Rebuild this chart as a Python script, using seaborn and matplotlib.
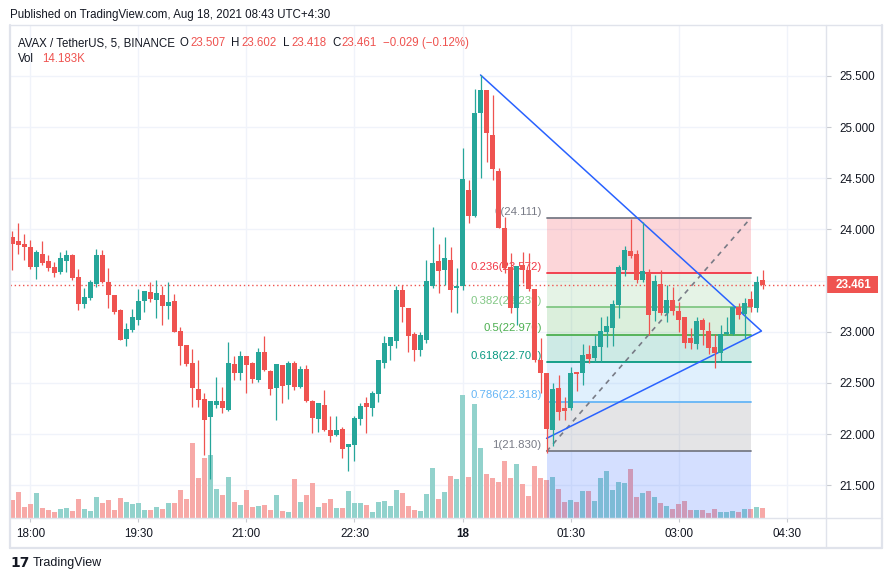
import numpy as np
import pandas as pd
import matplotlib
matplotlib.use("Agg")
import matplotlib.pyplot as plt
from matplotlib.lines import Line2D
from matplotlib.patches import Rectangle
import seaborn as sns

# ---------------- data ----------------
start_time = "2021-08-17 17:45"
axis_origin = "2021-08-17 18:00"

opens = [23.925, 23.886, 23.857, 23.827, 23.632, 23.759, 23.691, 23.632, 23.586, 23.691,
         23.749, 23.534, 23.274, 23.332, 23.466,
         23.749, 23.485, 23.358, 23.212, 22.928, 23.020, 23.117, 23.303, 23.388, 23.313,
         23.358, 23.254, 23.300, 23.007, 22.870, 22.694,
         22.440, 22.342, 22.169, 22.283, 22.322, 22.234, 22.684, 22.596, 22.762, 22.694,
         22.528, 22.801, 22.615, 22.450, 22.674, 22.479,
         22.694, 22.459, 22.635, 22.322, 22.147, 22.283, 22.039, 21.990, 22.049, 21.873,
         21.893, 22.147, 22.303, 22.254, 22.391, 22.694,
         22.860, 22.909, 23.408, 23.231, 22.977, 22.821, 22.919, 23.447, 23.691, 23.603,
         23.701, 23.427, 23.447, 24.385, 24.131,
         25.135, 25.363, 24.923, 24.571, 24.010, 23.636, 23.228, 23.652, 23.603, 23.420,
         22.722, 22.600, 22.039, 22.446, 22.251, 22.254,
         22.606, 22.596, 22.782, 22.743, 22.850, 23.000, 23.039, 23.264, 23.606, 23.788,
         23.759, 23.505,
         23.570, 23.205, 23.466, 23.182, 23.309, 23.202, 23.143, 22.938, 22.883, 23.114,
         23.007, 22.850, 22.792, 22.977, 22.977, 23.241, 23.173, 23.319, 23.231, 23.507]

highs = [23.984, 24.065, 23.958, 23.896, 23.798, 23.886, 23.749, 23.681, 23.779, 23.798,
         23.759, 23.612, 23.427, 23.505, 23.808,
         23.798, 23.622, 23.360, 23.225, 23.085, 23.221, 23.417, 23.397, 23.485, 23.505,
         23.446, 23.485, 23.368, 23.046, 22.870, 22.831,
         22.723, 22.401, 22.322, 22.557, 22.459, 22.899, 22.762, 22.811, 22.762, 22.704,
         22.840, 22.958, 22.625, 22.684, 22.674, 22.714,
         22.714, 22.664, 22.674, 22.332, 22.303, 22.430, 22.176, 22.176, 22.068, 21.902,
         22.176, 22.303, 22.362, 22.420, 22.723, 22.958,
         22.948, 23.447, 23.456, 23.231, 22.997, 22.997, 23.701, 24.023, 23.857, 23.926,
         23.828, 23.623, 24.796, 24.483, 25.373,
         25.510, 25.363, 25.314, 24.597, 24.125, 23.766, 23.642, 23.776, 23.766, 23.420,
         22.935, 22.600, 22.495, 22.573, 22.365, 22.658,
         22.610, 22.879, 22.870, 22.967, 23.143, 23.153, 23.309, 23.652, 23.837, 24.107,
         23.798, 24.075,
         23.612, 23.554, 23.603, 23.456, 23.436, 23.293, 23.143, 23.036, 23.143, 23.133,
         23.094, 22.977, 23.065, 23.143, 23.241, 23.280, 23.329, 23.397, 23.544, 23.602]

lows = [23.603, 23.762, 23.700, 23.612, 23.515, 23.651, 23.596, 23.534, 23.567, 23.583,
        23.505, 23.215, 23.235, 23.313, 23.436,
        23.472, 23.231, 23.176, 22.920, 22.863, 23.000, 23.068, 23.195, 23.293, 23.137,
        23.068, 23.127, 22.998, 22.678, 22.668, 22.267,
        22.267, 21.795, 21.564, 22.254, 22.205, 22.225, 22.528, 22.528, 22.401, 22.498,
        22.508, 22.615, 22.381, 22.137, 22.303, 22.342,
        22.430, 22.450, 22.313, 22.010, 22.020, 22.029, 21.922, 21.980, 21.765, 21.638,
        21.736, 22.088, 22.010, 22.176, 22.313, 22.645,
        22.723, 22.840, 23.095, 22.801, 22.713, 22.762, 22.889, 23.427, 23.378, 23.456,
        23.192, 23.182, 23.408, 24.062, 24.121,
        24.500, 24.662, 24.483, 24.010, 23.570, 23.179, 23.070, 23.479, 23.400, 22.700,
        22.397, 21.810, 21.886, 22.137, 22.137, 22.234,
        22.423, 22.479, 22.697, 22.704, 22.704, 22.853, 22.860, 23.130, 23.547, 23.723,
        23.479, 23.489,
        22.967, 23.108, 23.163, 23.098, 23.163, 23.000, 22.844, 22.834, 22.834, 22.873,
        22.785, 22.648, 22.717, 22.967, 22.967, 23.124, 22.928, 23.192, 23.192, 23.418]

closes = [23.860, 23.847, 23.831, 23.632, 23.779, 23.674, 23.622, 23.577, 23.720, 23.749,
          23.524, 23.274, 23.339, 23.485, 23.749,
          23.482, 23.358, 23.195, 22.922, 23.026, 23.143, 23.300, 23.397, 23.319, 23.378,
          23.254, 23.290, 23.000, 22.863, 22.684, 22.453,
          22.332, 22.137, 22.322, 22.322, 22.254, 22.694, 22.596, 22.762, 22.674, 22.537,
          22.801, 22.625, 22.440, 22.684, 22.469, 22.694,
          22.459, 22.635, 22.322, 22.156, 22.303, 22.039, 21.980, 22.039, 21.853, 21.902,
          22.156, 22.274, 22.264, 22.401, 22.723, 22.889,
          22.948, 23.408, 23.241, 22.958, 22.821, 22.967, 23.495, 23.671, 23.593, 23.720,
          23.408, 23.447, 24.493, 24.131, 25.138,
          25.363, 24.946, 24.587, 24.010, 23.620, 23.228, 23.642, 23.603, 23.420, 22.722,
          22.600, 22.050, 22.436, 22.215, 22.225, 22.596,
          22.590, 22.772, 22.736, 22.860, 23.007, 23.055, 23.270, 23.632, 23.798, 23.743,
          23.505, 23.593,
          23.163, 23.495, 23.182, 23.309, 23.202, 23.114, 22.893, 22.893, 23.104, 23.016,
          22.844, 22.792, 22.977, 22.997, 23.241, 23.166, 23.280, 23.241, 23.490, 23.461]

volumes_k = [25.2, 36.2, 15.6, 19.7, 34.8, 14.2, 11.4, 8.7, 12.8, 14.2,
             10.1, 26.5, 12.8, 10.1, 29.3,
             21.1, 25.2, 11.4, 27.9, 22.4, 19.7, 21.1, 11.4, 11.4, 15.6,
             12.8, 21.1, 21.1, 38.9, 26.5, 103.4,
             55.4, 82.8, 87.0, 40.3, 32.0, 56.8, 22.4, 18.3, 38.9, 15.6,
             16.9, 18.3, 11.4, 32.0, 10.1, 8.7,
             54.0, 22.4, 32.0, 48.5, 15.6, 21.1, 26.5, 14.2, 14.2, 37.5,
             21.1, 21.1, 18.3, 8.7, 22.4, 23.8,
             16.5, 38.4, 34.3, 16.5, 11.0, 9.6, 33.0, 68.7, 26.1, 35.7,
             57.7, 53.6, 168.9, 56.3, 156.5,
             96.1, 60.4, 54.9, 49.4, 78.3, 54.9, 74.1, 46.7, 30.2, 71.4,
             54.9, 52.2, 56.3, 39.8, 22.0, 24.7,
             22.4, 37.5, 37.5, 23.8, 55.4, 65.0, 38.9, 49.9, 48.5, 67.7,
             29.3, 34.8,
             37.5, 29.3, 21.1, 16.9, 12.8, 19.7, 23.8, 11.4, 11.4, 11.4,
             7.3, 12.8, 8.7, 8.7, 10.1, 8.7, 12.8, 12.8, 15.6, 14.183]

price_ticks = [21.5, 22.0, 22.5, 23.0, 23.5, 24.0, 24.5, 25.0, 25.5]
price_tick_labels = ["21.500", "22.000", "22.500", "23.000", "", "24.000", "24.500", "25.000", "25.500"]
time_ticks = ["2021-08-17 18:00", "2021-08-17 19:30", "2021-08-17 21:00", "2021-08-17 22:30",
              "2021-08-18 00:00", "2021-08-18 01:30", "2021-08-18 03:00", "2021-08-18 04:30"]
time_tick_labels = ["18:00", "19:30", "21:00", "22:30", "18", "01:30", "03:00", "04:30"]

fib_start = "2021-08-18 01:10"
fib_end = "2021-08-18 04:00"
fib_ratios = [0, 0.236, 0.382, 0.5, 0.618, 0.786, 1, 1.618]
fib_prices = [24.111, 23.572, 23.239, 22.970, 22.701, 22.318, 21.830, 20.420]
fib_colors = ["#787b86", "#f23645", "#81c784", "#4caf50", "#089981", "#64b5f6", "#787b86", "#2962ff"]

tri_times = ["2021-08-18 00:15", "2021-08-18 04:09", "2021-08-18 01:10"]
tri_prices = [25.51, 23.007, 21.958]

symbol_text = "AVAX / TetherUS, 5, BINANCE"
published_text = "Published on TradingView.com, Aug 18, 2021 08:43 UTC+4:30"

UP, DOWN = "#26a69a", "#ef5350"
UP_VOL, DOWN_VOL = "#92d2cc", "#f7a9a7"
TXT = "#131722"
FRAME = "#e0e3eb"
GRID = "#f0f3fa"

# ---------------- prep ----------------
origin = pd.Timestamp(axis_origin)
step = pd.Timedelta(minutes=5)


def tpos(t):
    return (pd.Timestamp(t) - origin) / step


times = pd.date_range(start_time, periods=len(opens), freq="5min")
xpos = np.array([(t - origin) / step for t in times])
o = np.array(opens); h = np.array(highs); l = np.array(lows); c = np.array(closes)
up = c >= o
df = pd.DataFrame({"x": xpos, "vol": volumes_k, "dir": np.where(up, "up", "down")})

# ---------------- figure ----------------
sns.set_theme(style="white")
plt.rcParams["font.family"] = ["Liberation Sans", "DejaVu Sans"]

W, H = 892, 581
fig = plt.figure(figsize=(W / 100, H / 100), dpi=100)
fig.patch.set_facecolor("white")


def fx(x):
    return x / W


def fy(y):
    return 1 - y / H


L, R, T, B = 10, 826, 25, 518
rect = [fx(L), fy(B), fx(R) - fx(L), fy(T) - fy(B)]

ax_vol = fig.add_axes(rect)
ax = fig.add_axes(rect, sharex=ax_vol)
ax.patch.set_visible(False)
ax_vol.set_facecolor("white")

# price axis geometry: 25.5 at y=76, 102.3 px per unit
ppu = 102.3
ymax = 25.5 + (76 - T) / ppu
ymin = 25.5 - (B - 76) / ppu
ax.set_ylim(ymin, ymax)
x_left = (L - 30.3) / 6.003
x_right = (R - 30.3) / 6.003
ax.set_xlim(x_left, x_right)

# volume (seaborn bars, behind candles)
sns.barplot(data=df, x="x", y="vol", hue="dir", palette={"up": UP_VOL, "down": DOWN_VOL},
            native_scale=True, dodge=False, width=0.78, saturation=1, errorbar=None,
            legend=False, linewidth=0, edgecolor="none", ax=ax_vol)
vol_per_px = 1.373
ax_vol.set_ylim(0, (B - T) * vol_per_px)
ax_vol.set_xlim(x_left, x_right)
ax_vol.set_xlabel(""); ax_vol.set_ylabel("")

# grid (drawn in background axes)
xt = [tpos(t) for t in time_ticks]
ax.set_xticks(xt)
for xv in xt:
    ax_vol.axvline(xv, color=GRID, lw=1.0, zorder=0)
for p in price_ticks:
    ax_vol.plot([x_left, x_right], [p, p], color=GRID, lw=1.0, zorder=0,
                transform=ax.transData)
ax_vol.tick_params(left=False, labelleft=False, bottom=False, labelbottom=False,
                   right=False, labelright=False)
for s in ax_vol.spines.values():
    s.set_visible(False)

# fibonacci retracement
fx1, fx2 = tpos(fib_start), tpos(fib_end)
for k in range(len(fib_ratios) - 1):
    ax.fill_between([fx1, fx2], fib_prices[k + 1], fib_prices[k], color=fib_colors[k + 1],
                    alpha=0.2, lw=0, zorder=1)
for k in range(len(fib_ratios) - 1):
    ax.plot([fx1, fx2], [fib_prices[k], fib_prices[k]], color=fib_colors[k], lw=1.3, zorder=1.5)
    ax.annotate(f"{fib_ratios[k]:g}({fib_prices[k]:.3f})", xy=(fx1, fib_prices[k]),
                xytext=(-3.5, 1.0), textcoords="offset points", ha="right", va="bottom",
                color=fib_colors[k], fontsize=8.2, zorder=2)
ax.plot([fx1, fx2], [fib_prices[6], fib_prices[0]], color="#787b86", lw=1.2,
        ls=(0, (3, 3)), zorder=1.6)

# triangle
tx = [tpos(t) for t in tri_times]
sns.lineplot(x=tx, y=tri_prices, sort=False, color="#2962ff", lw=1.1, ax=ax, zorder=2.2,
             estimator=None)

# candles
wick_col = np.where(up, UP, DOWN)
ax.vlines(xpos, l, h, colors=wick_col, lw=0.9, zorder=3)
body_lo = np.minimum(o, c)
body_h = np.maximum(np.abs(c - o), 0.012)
ax.bar(xpos, body_h, bottom=body_lo, width=0.76, color=wick_col, lw=0, zorder=3.1)

# last price line + label
last_price = closes[-1]
ax.axhline(last_price, color=DOWN, lw=1.0, ls=(0, (1, 2)), zorder=2.5)
ax.add_patch(Rectangle((1.0, last_price - 8.2 / ppu), 52 / (R - L), 16.4 / ppu,
                       transform=ax.get_yaxis_transform(), clip_on=False,
                       fc=DOWN, ec="none", zorder=10))
ax.text(1.0 + 10 / (R - L), last_price, f"{last_price:.3f}", transform=ax.get_yaxis_transform(),
        ha="left", va="center", color="white", fontsize=8.4, fontweight="bold", zorder=11,
        clip_on=False)

# axes styling
ax.yaxis.tick_right()
ax.set_yticks(price_ticks)
ax.set_yticklabels(price_tick_labels)
ax.set_xticklabels(time_tick_labels)
for lab in ax.get_xticklabels():
    if lab.get_text() == "18":
        lab.set_fontweight("bold")
ax.tick_params(axis="y", which="both", right=True, left=False, length=3.5, width=0.8,
               color="#c8cad0", pad=6, labelsize=8.4, labelcolor=TXT)
ax.tick_params(axis="x", which="both", bottom=True, length=3.0, width=0.8,
               color="#c8cad0", pad=4, labelsize=8.4, labelcolor=TXT)
for s in ax.spines.values():
    s.set_visible(False)
ax.set_xlabel(""); ax.set_ylabel("")
ax.grid(False)

# frame lines
def fline(x0, y0, x1, y1, color=FRAME, lw=1.0):
    fig.add_artist(Line2D([fx(x0), fx(x1)], [fy(y0), fy(y1)], color=color, lw=lw,
                          transform=fig.transFigure))

fline(10, 25, 882, 25)
fline(10, 25, 10, 548, lw=1.6)
fline(882, 25, 882, 548, lw=1.6)
fline(10, 548, 882, 548, lw=1.6)
fline(826, 25, 826, 548)
fline(10, 518, 882, 518)

# header texts
fig.text(fx(10), fy(15), published_text, color=TXT, fontsize=8.3, va="center", ha="left")
fig.text(fx(18), fy(43), symbol_text, color=TXT, fontsize=8.3, va="center", ha="left")
chg = closes[-1] - closes[-2]
pct = chg / closes[-2] * 100
legend_items = [(180, "O", TXT), (190, f"{opens[-1]:.3f}", DOWN),
                (231, "H", TXT), (241, f"{highs[-1]:.3f}", DOWN),
                (283, "L", TXT), (291, f"{lows[-1]:.3f}", DOWN),
                (332, "C", TXT), (341, f"{closes[-1]:.3f}", DOWN),
                (383, f"{chg:+.3f} ({pct:+.2f}%)".replace("-", "\u2212"), DOWN)]
for xx, s, col in legend_items:
    fig.text(fx(xx), fy(43), s, color=col, fontsize=8.3, va="center", ha="left")
fig.text(fx(18), fy(59), "Vol", color=TXT, fontsize=8.3, va="center", ha="left")
fig.text(fx(42), fy(59), f"{volumes_k[-1]:.3f}K", color=DOWN, fontsize=8.3, va="center", ha="left")

# footer logo
fig.text(fx(10), fy(563), "17", color=TXT, fontsize=10, fontweight="heavy",
         family="DejaVu Sans", va="center", ha="left")
fig.text(fx(33), fy(563), "TradingView", color=TXT, fontsize=9, va="center", ha="left")

fig.savefig("out.png", dpi=100, facecolor="white")
